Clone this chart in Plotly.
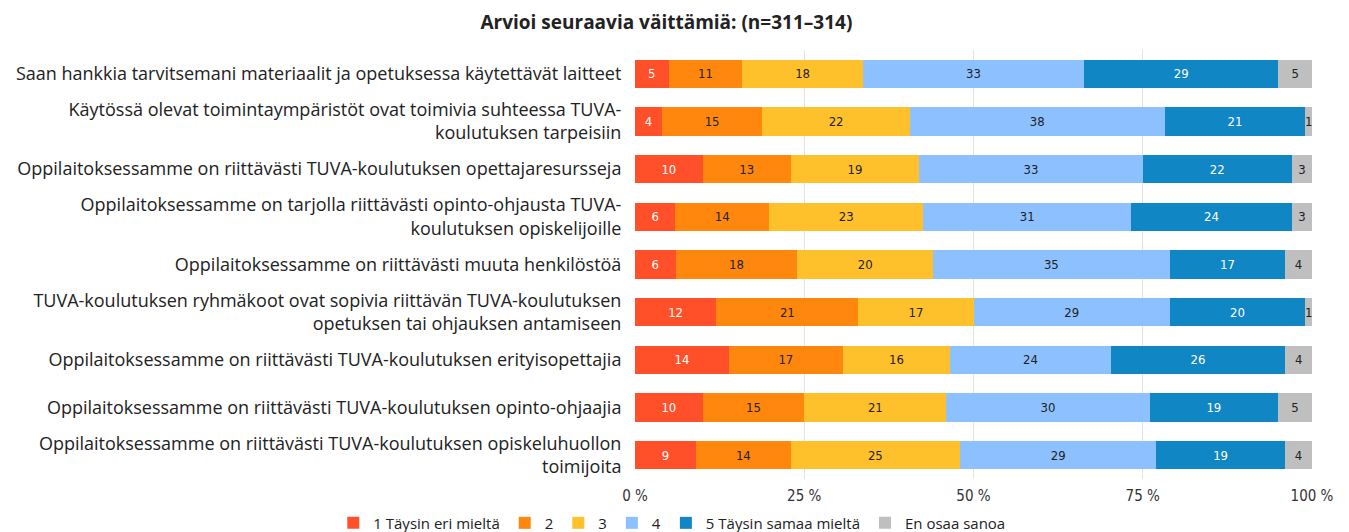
import plotly.graph_objects as go

categories = [
    "Saan hankkia tarvitsemani materiaalit ja opetuksessa käytettävät laitteet",
    "Käytössä olevat toimintaympäristöt ovat toimivia suhteessa TUVA-<br>koulutuksen tarpeisiin",
    "Oppilaitoksessamme on riittävästi TUVA-koulutuksen opettajaresursseja",
    "Oppilaitoksessamme on tarjolla riittävästi opinto-ohjausta TUVA-<br>koulutuksen opiskelijoille",
    "Oppilaitoksessamme on riittävästi muuta henkilöstöä",
    "TUVA-koulutuksen ryhmäkoot ovat sopivia riittävän TUVA-koulutuksen<br>opetuksen tai ohjauksen antamiseen",
    "Oppilaitoksessamme on riittävästi TUVA-koulutuksen erityisopettajia",
    "Oppilaitoksessamme on riittävästi TUVA-koulutuksen opinto-ohjaajia",
    "Oppilaitoksessamme on riittävästi TUVA-koulutuksen opiskeluhuollon<br>toimijoita",
]

series_names = ["1 Täysin eri mieltä", "2", "3", "4", "5 Täysin samaa mieltä", "En osaa sanoa"]
s1 = [5, 4, 10, 6, 6, 12, 14, 10, 9]
s2 = [11, 15, 13, 14, 18, 21, 17, 15, 14]
s3 = [18, 22, 19, 23, 20, 17, 16, 21, 25]
s4 = [33, 38, 33, 31, 35, 29, 24, 30, 29]
s5 = [29, 21, 22, 24, 17, 20, 26, 19, 19]
s6 = [5, 1, 3, 3, 4, 1, 4, 5, 4]
series_values = [s1, s2, s3, s4, s5, s6]

tick_vals = [0, 25, 50, 75, 100]
tick_labels = ["0 %", "25 %", "50 %", "75 %", "100 %"]

colors = ["#FF5029", "#FF870D", "#FFC12B", "#8CC0FF", "#1186C4", "#BFBFBF"]
text_colors = ["white", "#222222", "#222222", "#222222", "white", "#222222"]

NARROW = "Liberation Sans Narrow, DejaVu Sans Condensed, sans-serif"
MAIN = "Open Sans, sans-serif"

fig = go.Figure()
for name, vals, c, tc in zip(series_names, series_values, colors, text_colors):
    fig.add_trace(go.Bar(
        y=categories, x=vals, name=name, orientation="h",
        marker=dict(color=c, line=dict(width=0)),
        text=[str(v) for v in vals], textposition="inside", insidetextanchor="middle",
        textfont=dict(color=tc, size=13, family=NARROW),
        constraintext="none",
        hoverinfo="x+y",
    ))

# The page body adds an 8px offset, so sizes/margins compensate for it.
fig.update_layout(
    barmode="stack", barnorm="percent", bargap=0.41,
    width=1341, height=524,
    margin=dict(l=627, r=37, t=42, b=53, autoexpand=False),
    paper_bgcolor="white", plot_bgcolor="white",
    title=dict(text="<b>Arvioi seuraavia väittämiä: (n=311–314)</b>", xref="container", x=0.491, xanchor="center",
               yref="container", y=0.972, yanchor="middle",
               font=dict(size=19, color="#222222", family=MAIN)),
    font=dict(family=MAIN, color="#222222"),
    legend=dict(orientation="h", xref="container", x=0.495, xanchor="center",
                yref="container", y=0.017, yanchor="middle",
                font=dict(size=15, color="#222222", family=MAIN),
                itemwidth=30, traceorder="normal"),
    uniformtext=dict(minsize=8, mode="show"),
)
fig.update_xaxes(range=[0, 100], tickvals=tick_vals, ticktext=tick_labels, automargin=False,
                 showgrid=True, gridcolor="#E3E3E3", gridwidth=1, zeroline=False,
                 tickfont=dict(size=15, family=NARROW, color="#333333"),
                 ticks="outside", ticklen=3, tickcolor="white", showline=False)
fig.update_yaxes(autorange="reversed", automargin=False,
                 tickfont=dict(size=18, family=MAIN, color="#222222"),
                 ticks="outside", ticklen=9, tickcolor="white", showgrid=False)

fig.write_html("out.html")
